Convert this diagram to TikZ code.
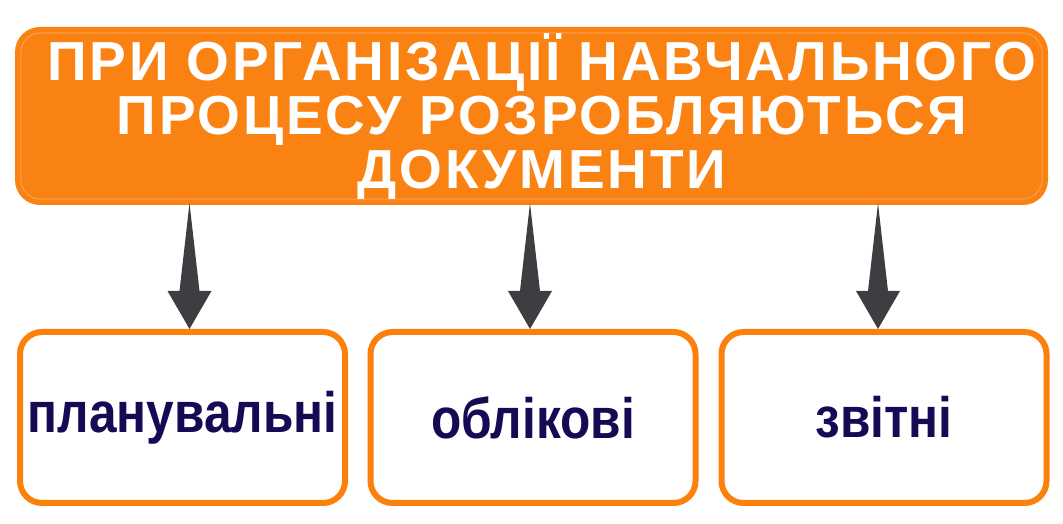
\documentclass[tikz,border=0pt]{standalone}
\usepackage{fontspec}
\usepackage{tikz}
\usetikzlibrary{calc}
\usetikzlibrary{positioning}

\newfontfamily\headfont[LetterSpace=5]{Liberation Sans}
\newfontfamily\labelfont[FakeStretch=0.87]{Liberation Sans}

\definecolor{boxorange}{RGB}{250,130,18}
\definecolor{lineorange}{RGB}{252,128,12}
\definecolor{innerorange}{RGB}{252,160,80}
\definecolor{textnavy}{RGB}{22,10,85}
\definecolor{arrowgray}{RGB}{62,62,66}

\begin{document}
\begin{tikzpicture}[x=1pt,y=1pt]

   %Styles of boxes and arrows
   \tikzstyle{headbox} = [rectangle, rounded corners=25pt, minimum width=1033pt, minimum height=178pt, inner sep=0pt, fill=boxorange]
   \tikzstyle{headtext} = [align=center, inner sep=0pt, text=white, font=\headfont\bfseries\fontsize{55}{54}\selectfont]
   \tikzstyle{docbox} = [rectangle, rounded corners=22pt, minimum width=325pt, minimum height=171pt, draw=lineorange, line width=6pt, fill=white, text=textnavy, font=\labelfont\bfseries\fontsize{57}{60}\selectfont]
   \tikzstyle{arrow} = [fill=arrowgray]

   %Page size
   \useasboundingbox (0,0) rectangle (1063,524);

   %Boxes
   \node[headbox] (docs) at (531.5,408) {};
   \draw[innerorange, line width=1pt, rounded corners=20pt] ($(docs.south west)+(6,6)$) rectangle ($(docs.north east)+(-6,-6)$);
   \node[headtext] (title) at (542,408) {ПРИ ОРГАНІЗАЦІЇ НАВЧАЛЬНОГО\\ПРОЦЕСУ РОЗРОБЛЯЮТЬСЯ\\ДОКУМЕНТИ};

   \node[docbox] (plan) at (182.5,106.5) {планувальні};
   \node[docbox] (oblik) at (533,106.5) {облікові};
   \node[docbox] (zvit) at (884,106.5) {звітні};

   %Arrows
   \foreach \b/\dx in {plan/7,oblik/-3,zvit/-6}{
      \coordinate (s) at ($(docs.south -| \b.north)+(\dx,2)$);
      \coordinate (t) at ($(\b.north)+(\dx,0)$);
      \fill[arrow] (s) -- ($(t)+(10,38)$) -- ($(t)+(22,38)$) -- (t) -- ($(t)+(-22,38)$) -- ($(t)+(-10,38)$) -- cycle;
   }

\end{tikzpicture}
\end{document}
